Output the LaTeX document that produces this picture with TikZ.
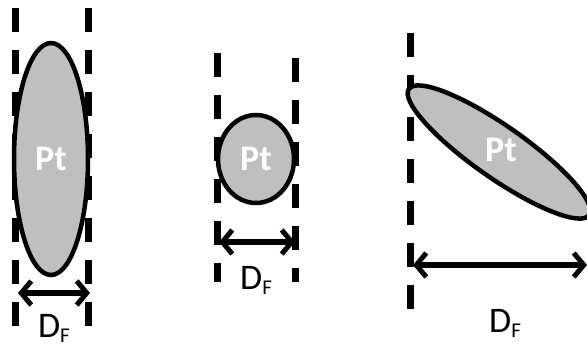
\documentclass[tikz,border=0pt]{standalone}
\usepackage{fontspec}
\setmainfont{Carlito}
\usetikzlibrary{shapes.geometric,arrows.meta}
\definecolor{ptgray}{HTML}{BFBFBF}
\tikzset{
  guide/.style={line width=7pt, dash pattern=on 24pt off 18pt, black},
  particle/.style={ellipse, draw=black, line width=4.5pt, fill=ptgray, inner sep=0pt,
     text=white, font=\bfseries\fontsize{36}{40}\selectfont},
  dimarrow/.style={line width=5.5pt, {Straight Barb[length=10pt,width=24pt,line width=5pt]}-{Straight Barb[length=10pt,width=24pt,line width=5pt]}},
  dimlabel/.style={font=\fontsize{36}{40}\selectfont, inner sep=0pt}
}
\newcommand{\dflabel}{D\raisebox{-5pt}{\fontsize{21}{22}\selectfont F}}
\begin{document}
\begin{tikzpicture}[x=1pt,y=-1pt]
\useasboundingbox (0,0) rectangle (587,350);
% panel 1
\coordinate (a1t) at (15,8); \coordinate (a1b) at (15,330);
\coordinate (b1t) at (88,8); \coordinate (b1b) at (88,330);
\draw[guide] (a1t) -- (a1b);
\draw[guide] (b1t) -- (b1b);
\node[particle, minimum width=74pt, minimum height=232pt] (p1) at (51,159) {Pt};
\coordinate (l1) at (18,293); \coordinate (r1) at (90,293);
\draw[dimarrow] (l1) -- (r1);
\node[dimlabel] (d1) at (54,328) {\dflabel};
% panel 2
\coordinate (a2t) at (217,53); \coordinate (a2b) at (217,282);
\coordinate (b2t) at (295,58); \coordinate (b2b) at (295,282);
\draw[guide] (a2t) -- (a2b);
\draw[guide] (b2t) -- (b2b);
\node[particle, minimum width=76pt, minimum height=88pt] (p2) at (256,159) {Pt};
\coordinate (l2) at (219,242); \coordinate (r2) at (295,242);
\draw[dimarrow] (l2) -- (r2);
\node[dimlabel] (d2) at (256,280) {\dflabel};
% panel 3
\coordinate (a3t) at (410,33); \coordinate (a3b) at (410,310);
\coordinate (b3t) at (589.5,68); \coordinate (b3b) at (589.5,340);
\draw[guide] (a3t) -- (a3b);
\draw[guide, line width=6pt, ptgray!70!black] (b3t) -- (b3b);
\node[particle, minimum width=220pt, minimum height=52pt, rotate=-35] (p3) at (499,152) {};
\node[text=white, font=\bfseries\fontsize{36}{40}\selectfont] (t3) at (501,150) {Pt};
\coordinate (l3) at (413,265); \coordinate (r3) at (587,265);
\draw[dimarrow] (l3) -- (r3);
\node[dimlabel] (d3) at (505,323) {\dflabel};
\end{tikzpicture}
\end{document}
